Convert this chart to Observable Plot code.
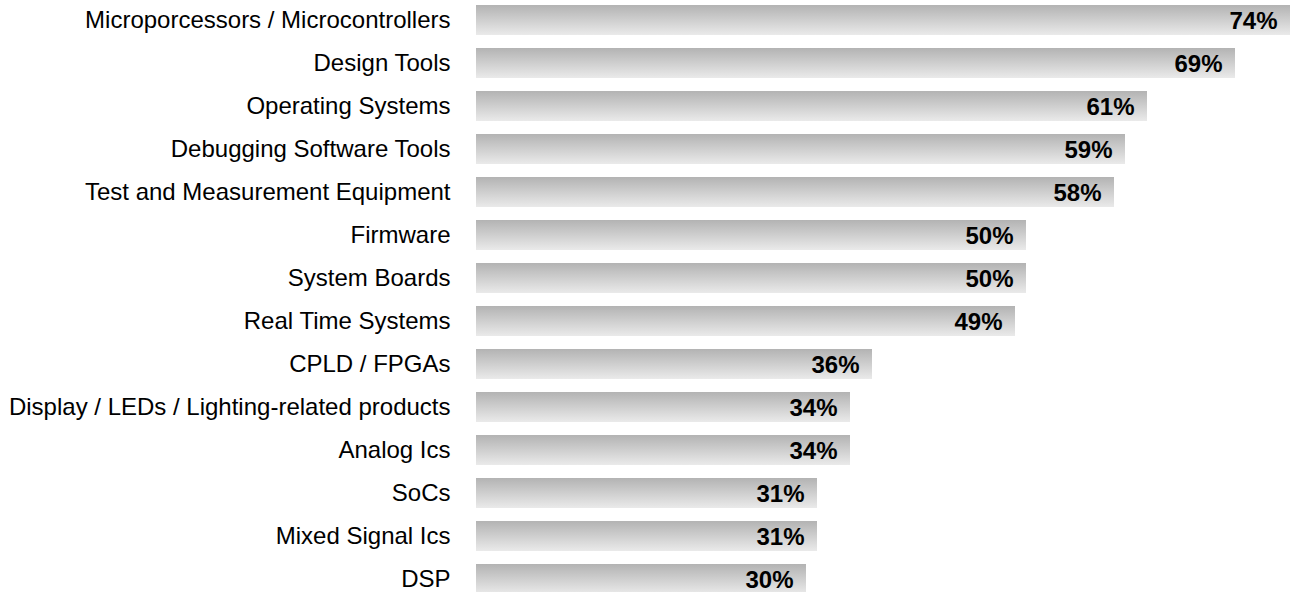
<!DOCTYPE html>
<html>
<head>
<meta charset="utf-8">
<script src="https://cdn.jsdelivr.net/npm/d3@7"></script>
<script src="https://cdn.jsdelivr.net/npm/@observablehq/plot@0.6"></script>
<style>
  html, body { margin: 0; padding: 0; background: #fff; overflow: hidden; }
  #chart svg { display: block; }
</style>
</head>
<body>
<div id="chart"></div>
<script>
const categories = [
  "Microporcessors / Microcontrollers",
  "Design Tools",
  "Operating Systems",
  "Debugging Software Tools",
  "Test and Measurement Equipment",
  "Firmware",
  "System Boards",
  "Real Time Systems",
  "CPLD / FPGAs",
  "Display / LEDs / Lighting-related products",
  "Analog Ics",
  "SoCs",
  "Mixed Signal Ics",
  "DSP"
];
const values = [74, 69, 61, 59, 58, 50, 50, 49, 36, 34, 34, 31, 31, 30];

const data = categories.map((c, i) => ({category: c, value: values[i]}));

const gradientDefs = () => {
  const defs = d3.create("svg:defs");
  const g = defs.append("linearGradient")
    .attr("id", "barGrad")
    .attr("x1", 0).attr("y1", 0).attr("x2", 0).attr("y2", 1);
  g.append("stop").attr("offset", "0%").attr("stop-color", "#b3b3b3");
  g.append("stop").attr("offset", "100%").attr("stop-color", "#eaeaea");
  return defs.node();
};

const chart = Plot.plot({
  width: 1291,
  height: 592,
  marginLeft: 476,
  marginRight: 1,
  marginTop: 0,
  marginBottom: 0,
  style: {fontFamily: "'Liberation Sans', Arial, sans-serif", background: "#fff"},
  x: {domain: [0, 74], range: [476, 1290], axis: null},
  y: {domain: categories, range: [-2.5, 600.6], paddingInner: 0.3, paddingOuter: 0.15, label: null},
  marks: [
    gradientDefs,
    Plot.barX(data, {y: "category", x: "value", fill: "url(#barGrad)"}),
    Plot.text(data, {
      y: "category", x: "value", text: d => d.value + "%",
      textAnchor: "end", dx: -13, dy: 1,
      fontSize: 24, fontWeight: "bold", fill: "#000"
    }),
    Plot.axisY({tickSize: 0, tickPadding: 26, fontSize: 24, label: null, color: "#000"})
  ]
});
document.getElementById("chart").append(chart);
</script>
</body>
</html>
